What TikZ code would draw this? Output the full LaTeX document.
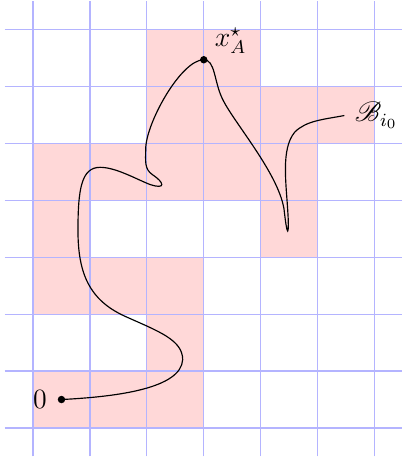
\documentclass[tikz,border=0pt]{standalone}
\usepackage{amsmath,amssymb,mathrsfs}
\usetikzlibrary{positioning}
\definecolor{cellfill}{RGB}{255,216,216}
\definecolor{gridblue}{RGB}{180,180,255}
\tikzset{line width=.45pt,
  every node/.style={font=\large},
  cell/.style={fill=cellfill,draw=none},
  gridlines/.style={draw=gridblue,line width=.55pt},
  pathcurve/.style={draw=black,line width=.5pt},
  marker/.style={circle,fill=black,inner sep=0pt,minimum size=3.2pt}}

\begin{document}
\begin{tikzpicture}[x=0.86cm,y=0.86cm]
\useasboundingbox(-0.58,-0.58)rectangle(6.47,7.52);
% shaded cells
\foreach \i/\j in {0/0,1/0,2/0,2/1,0/2,1/2,2/2,0/3,4/3,0/4,1/4,2/4,3/4,4/4,2/5,3/5,4/5,5/5,2/6,3/6}
  \fill[cell](\i,\j)rectangle++(1,1);
\draw[gridlines,step=1](-0.5,-0.5)grid(6.5,7.5);
% path from 0 to x_A and on to B
\coordinate(start)at(0.5,0.5);\coordinate(xA)at(3,6.47);\coordinate(bend)at(5.47,5.49);
\draw[pathcurve](start)..controls(1.5,0.55)and(2.6,0.7)..(2.63,1.2)
  ..controls(2.63,1.55)and(2.2,1.7)..(1.6,1.97)
  ..controls(1.0,2.25)and(0.79,2.7)..(0.79,3.47)
  ..controls(0.79,4.2)and(0.85,4.58)..(1.18,4.58)
  ..controls(1.45,4.58)and(1.8,4.38)..(2.05,4.28)
  ..controls(2.35,4.18)and(2.3,4.32)..(2.1,4.45)
  ..controls(1.95,4.55)and(1.98,4.7)..(1.98,4.9)
  ..controls(1.98,5.35)and(2.6,6.47)..(xA)
  ..controls(3.2,6.47)and(3.18,6.1)..(3.32,5.8)
  ..controls(3.5,5.4)and(4.3,4.5)..(4.41,3.85)
  ..controls(4.47,3.3)and(4.5,3.4)..(4.48,3.75)
  ..controls(4.45,4.3)and(4.35,4.9)..(4.6,5.2)
  ..controls(4.8,5.4)and(5.1,5.42)..(bend);
\node[marker](dotzero)at(start){};\node[marker](dotxA)at(xA){};
\node[left=1pt of dotzero](zero){$0$};
\node[above right=-2pt and 0pt of dotxA](labxA){$x^\star_A$};
\node[right=1pt of bend](labB){$\mathscr{B}_{i_0}$};
\end{tikzpicture}
\end{document}
